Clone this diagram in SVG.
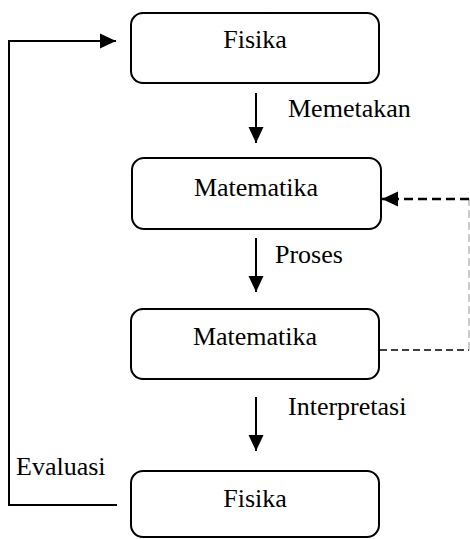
<svg xmlns="http://www.w3.org/2000/svg" width="470" height="539" viewBox="0 0 470 539">
  <style>
    .box { fill: #ffffff; stroke: #000000; stroke-width: 2; }
    .lbl { font-size: 26px; fill: #000000; }
    .mid { text-anchor: middle; }
    .line { fill: none; stroke: #000000; stroke-width: 2; }
    .dash-a { fill: none; stroke: #000000; stroke-width: 2.5; stroke-dasharray: 9 5; }
    .dash-b { fill: none; stroke: #000000; stroke-width: 1.5; stroke-dasharray: 7 4; }
    .dash-c { fill: none; stroke: #9a9a9a; stroke-width: 1; stroke-dasharray: 8 4; }
  </style>
  <defs>
    <marker id="head" markerUnits="userSpaceOnUse" markerWidth="16" markerHeight="16" viewBox="0 0 16 16" refX="16" refY="8" orient="auto">
      <path d="M0,0.5 L16,8 L0,15.5 Z" fill="#000000"/>
    </marker>
  </defs>

  <g font-family="'Liberation Serif', Tinos, 'Times New Roman', 'DejaVu Serif', serif">
    <!-- process boxes -->
    <g id="fisika-atas">
      <rect class="box" x="131" y="13" width="248" height="70" rx="12"/>
      <text class="lbl mid" x="255" y="48">Fisika</text>
    </g>
    <g id="matematika-atas">
      <rect class="box" x="132" y="158" width="249" height="71" rx="12"/>
      <text class="lbl mid" x="256" y="196">Matematika</text>
    </g>
    <g id="matematika-bawah">
      <rect class="box" x="131" y="309" width="248" height="70" rx="12"/>
      <text class="lbl mid" x="255" y="345">Matematika</text>
    </g>
    <g id="fisika-bawah">
      <rect class="box" x="131" y="471" width="248" height="66" rx="12"/>
      <text class="lbl mid" x="255" y="507">Fisika</text>
    </g>

    <!-- connectors -->
    <g id="connectors">
      <line class="line" x1="256" y1="93" x2="256" y2="143" marker-end="url(#head)"/>
      <line class="line" x1="256" y1="238" x2="256" y2="292" marker-end="url(#head)"/>
      <line class="line" x1="256" y1="397" x2="256" y2="451" marker-end="url(#head)"/>
      <polyline class="line" points="117,505 9,505 9,41 116,41" marker-end="url(#head)"/>
      <line class="dash-b" x1="380" y1="350" x2="469" y2="350"/>
      <line class="dash-c" x1="469" y1="350" x2="469" y2="199"/>
      <line class="dash-a" x1="469" y1="199" x2="382" y2="199" marker-end="url(#head)"/>
    </g>

    <!-- connector labels -->
    <g id="labels">
      <text class="lbl" x="288" y="117">Memetakan</text>
      <text class="lbl" x="275" y="263">Proses</text>
      <text class="lbl" x="288" y="415">Interpretasi</text>
      <text class="lbl" x="16" y="475">Evaluasi</text>
    </g>
  </g>
</svg>
